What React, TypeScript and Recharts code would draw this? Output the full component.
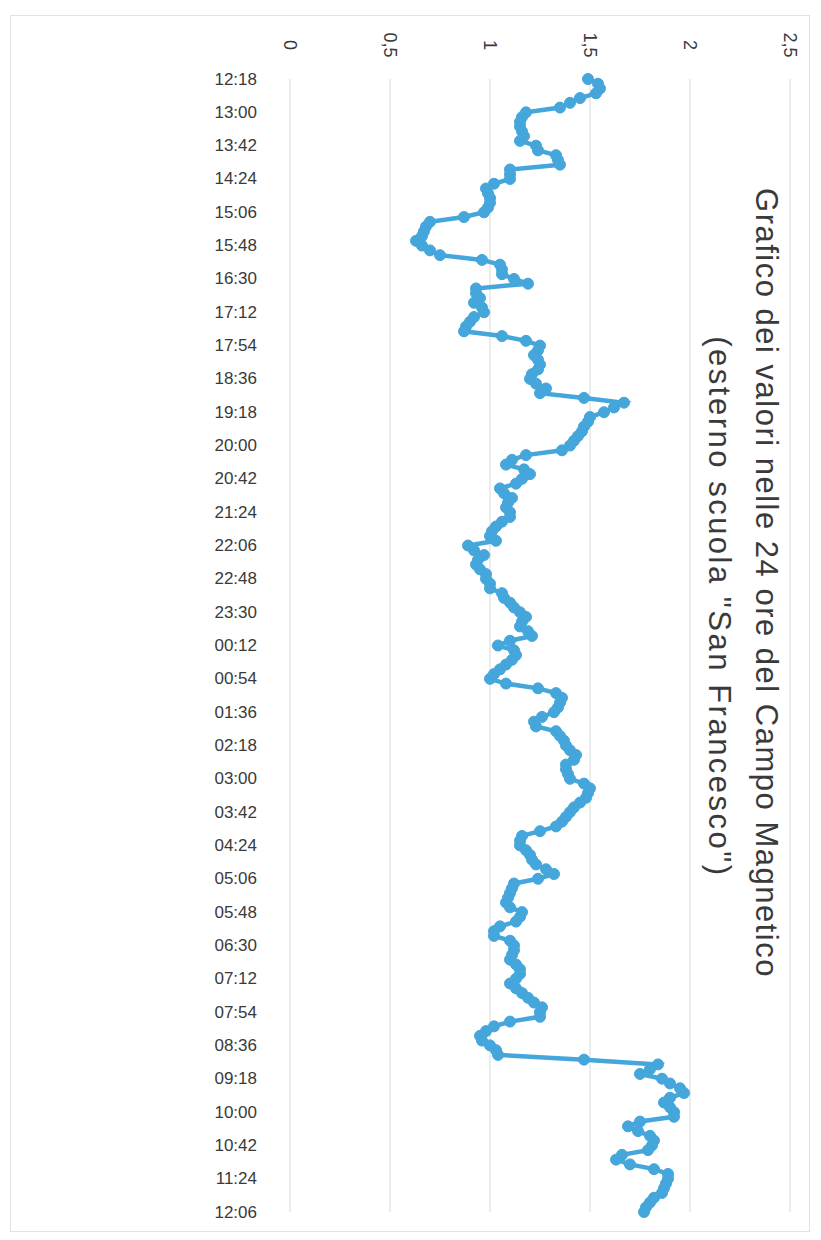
import { LineChart, Line, XAxis, YAxis, CartesianGrid } from 'recharts';

const title = 'Grafico dei valori nelle 24 ore del Campo Magnetico';
const subtitle = '(esterno scuola "San Francesco")';

// readings every 6 minutes, starting 12:18
const startMinutes = 12 * 60 + 18;
const stepMinutes = 6;

const values = [
  1.49, 1.54, 1.55, 1.53, 1.45, 1.4, 1.35, 1.18, 1.16, 1.15,
  1.15, 1.16, 1.17, 1.15, 1.23, 1.24, 1.33, 1.34, 1.35, 1.1,
  1.1, 1.1, 1.02, 0.98, 0.99, 1.0, 1.0, 0.99, 0.97, 0.87,
  0.7, 0.68, 0.67, 0.66, 0.63, 0.66, 0.7, 0.75, 0.96, 1.05,
  1.06, 1.06, 1.12, 1.19, 0.93, 0.93, 0.95, 0.92, 0.96, 0.97,
  0.92, 0.9, 0.88, 0.87, 1.06, 1.18, 1.25, 1.24, 1.22, 1.24,
  1.25, 1.24, 1.21, 1.2, 1.23, 1.28, 1.25, 1.47, 1.67, 1.62,
  1.57, 1.5, 1.49, 1.47, 1.46, 1.44, 1.42, 1.4, 1.36, 1.18,
  1.11, 1.08, 1.17, 1.2, 1.16, 1.13, 1.05, 1.07, 1.11, 1.09,
  1.08, 1.1, 1.1, 1.06, 1.03, 1.01, 1.0, 1.03, 0.89, 0.92,
  0.97, 0.94, 0.93, 0.95, 0.98, 0.98, 1.0, 1.0, 1.06, 1.07,
  1.1, 1.12, 1.15, 1.18, 1.16, 1.15, 1.19, 1.21, 1.1, 1.04,
  1.12, 1.13, 1.11, 1.08, 1.05, 1.02, 1.0, 1.08, 1.24, 1.33,
  1.36, 1.35, 1.34, 1.32, 1.26, 1.22, 1.23, 1.33, 1.35, 1.37,
  1.38, 1.4, 1.43, 1.42, 1.38, 1.38, 1.39, 1.4, 1.47, 1.5,
  1.49, 1.48, 1.45, 1.42, 1.4, 1.38, 1.36, 1.33, 1.25, 1.16,
  1.15, 1.15, 1.18, 1.2, 1.21, 1.23, 1.28, 1.32, 1.24, 1.12,
  1.11, 1.1, 1.09, 1.08, 1.1, 1.16, 1.15, 1.13, 1.05, 1.02,
  1.02, 1.1, 1.12, 1.12, 1.11, 1.1, 1.13, 1.15, 1.15, 1.13,
  1.1, 1.13, 1.16, 1.19, 1.22, 1.26, 1.25, 1.25, 1.1, 1.02,
  0.98, 0.95, 0.96, 1.0, 1.03, 1.04, 1.47, 1.84, 1.8, 1.75,
  1.86, 1.9, 1.95, 1.97, 1.9, 1.87, 1.9, 1.92, 1.92, 1.75,
  1.69, 1.74, 1.8, 1.82, 1.81, 1.79, 1.66, 1.63, 1.7, 1.82,
  1.89, 1.89, 1.88, 1.87, 1.86, 1.82, 1.8, 1.78, 1.77,
];

const valueTicks = [0, 0.5, 1, 1.5, 2, 2.5];

const pad = (n: number) => String(n).padStart(2, '0');
const times = values.map((_, i) => {
  const m = (startMinutes + i * stepMinutes) % (24 * 60);
  return `${pad(Math.floor(m / 60))}:${pad(m % 60)}`;
});

const data = values.map((v, i) => ({ time: times[i], value: v }));

const COLOR = '#44a6db';
const TEXT = '#3a3a3a';
const FONT = '"Liberation Sans", Arial, sans-serif';
const NARROW = '"Liberation Sans Narrow", "Liberation Sans", sans-serif';

function ValueTick({ x, payload }: any) {
  return (
    <text
      x={x}
      y={45}
      transform={`rotate(90, ${x}, 45)`}
      textAnchor="middle"
      dominantBaseline="central"
      fill={TEXT}
      fontSize={18}
      fontFamily={NARROW}
    >
      {String(payload.value).replace('.', ',')}
    </text>
  );
}

function TimeTick({ y, payload }: any) {
  return (
    <text
      x={257}
      y={y}
      textAnchor="end"
      dominantBaseline="central"
      fill={TEXT}
      fontSize={17}
      fontFamily={NARROW}
    >
      {payload.value}
    </text>
  );
}

export default function App() {
  return (
    <div style={{ position: 'absolute', left: 0, top: 0, width: 821, height: 1240, background: '#fff' }}>
      <div
        style={{
          position: 'absolute',
          left: 10,
          top: 15,
          width: 800,
          height: 1217,
          border: '1px solid #e2e2e2',
          boxSizing: 'border-box',
        }}
      />
      <LineChart
        width={821}
        height={1240}
        data={data}
        layout="vertical"
        margin={{ top: 0, right: 31, bottom: 28, left: 0 }}
        style={{ position: 'absolute', left: 0, top: 0 }}
      >
        <CartesianGrid horizontal={false} stroke="#d9d9d9" />
        <XAxis
          type="number"
          orientation="top"
          domain={[0, 2.5]}
          ticks={valueTicks}
          height={79}
          axisLine={false}
          tickLine={false}
          tick={<ValueTick />}
        />
        <YAxis
          type="category"
          dataKey="time"
          width={290}
          interval={6}
          axisLine={false}
          tickLine={false}
          tick={<TimeTick />}
        />
        <Line
          dataKey="value"
          stroke={COLOR}
          strokeWidth={4.5}
          dot={{ r: 5.5, fill: COLOR, stroke: COLOR, strokeWidth: 1 }}
          activeDot={false}
          isAnimationActive={false}
        />
        <text
          x={766}
          y={583}
          transform="rotate(90, 766, 583)"
          textAnchor="middle"
          dominantBaseline="central"
          fill={TEXT}
          fontSize={31}
          letterSpacing={1.5}
          fontFamily={FONT}
        >
          {title}
        </text>
        <text
          x={719}
          y={607}
          transform="rotate(90, 719, 607)"
          textAnchor="middle"
          dominantBaseline="central"
          fill={TEXT}
          fontSize={31}
          letterSpacing={2.5}
          fontFamily={FONT}
        >
          {subtitle}
        </text>
      </LineChart>
    </div>
  );
}
